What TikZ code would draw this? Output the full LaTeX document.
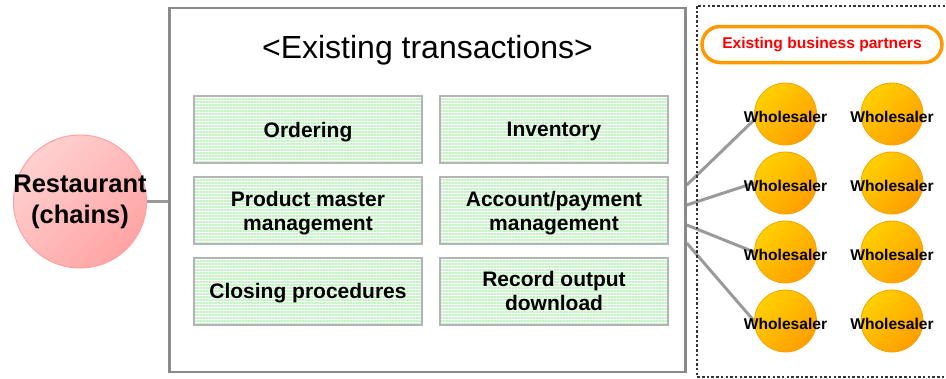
\documentclass[tikz,border=0pt]{standalone}
\usepackage{fontspec}
\setmainfont{Liberation Sans}
\usetikzlibrary{patterns.meta,backgrounds}

\definecolor{framegray}{HTML}{8A8A8A}
\definecolor{taskgray}{HTML}{B4B4B4}
\definecolor{stripegreen}{HTML}{C6F4C6}
\definecolor{linkgray}{HTML}{9A9A9A}
\definecolor{pinklight}{HTML}{FFD0D0}
\definecolor{pinkdark}{HTML}{FFA4A4}
\definecolor{pinkedge}{HTML}{FFA0A0}
\definecolor{goldlight}{HTML}{FFD000}
\definecolor{golddark}{HTML}{FF9E00}
\definecolor{goldedge}{HTML}{F5A300}
\definecolor{partnerorange}{HTML}{FF9900}

\begin{document}
\begin{tikzpicture}
  [
    x                     = 1pt,
    y                     = -1pt,
    mainbox/.style        = {draw=framegray, line width=2.5pt,
                             minimum width=516pt, minimum height=364pt},
    taskbox/.style        = {draw=taskgray, line width=2pt,
                             pattern={Lines[angle=0, distance=3pt, line width=1.5pt]},
                             pattern color=stripegreen,
                             minimum width=228pt, minimum height=67pt,
                             align=center, inner sep=0pt, text depth=0pt,
                             font=\fontsize{21}{24}\selectfont\bfseries},
    guest/.style          = {circle, draw=pinkedge, line width=1pt,
                             top color=pinklight, bottom color=pinkdark,
                             shading angle=45, minimum size=133pt,
                             inner sep=0pt},
    guest text/.style     = {align=center,
                             font=\fontsize{25.5}{31}\selectfont\bfseries},
    seller/.style         = {circle, draw=goldedge, line width=0.8pt,
                             top color=goldlight, bottom color=golddark,
                             shading angle=45, minimum size=62pt,
                             inner sep=0pt},
    seller text/.style    = {yshift=-3pt,
                             font=\fontsize{15.6}{18}\selectfont\bfseries},
    partners/.style       = {draw=partnerorange, line width=3.5pt,
                             rounded corners=18pt, text=red,
                             minimum width=240pt, minimum height=36pt,
                             font=\fontsize{15.6}{18}\selectfont\bfseries},
    link/.style           = {draw=linkgray, line width=3pt},
    group/.style          = {draw=black!80, line width=2pt,
                             dash pattern=on 2.5pt off 2.2pt}
  ]
  \useasboundingbox (0,0) rectangle (946,378);

  % left: the restaurant
  \node[guest, label={[guest text]center:Restaurant\\(chains)}]
    (restaurant) at (80,201.5) {};

  % middle: existing transactions
  \node[mainbox] (existing) at (427.5,190) {};
  \node[anchor=base, font=\fontsize{32}{36}\selectfont]
    (title) at (427.5,58) {<Existing transactions>};

  \node[taskbox] (ordering)  at (308,129.5) {Ordering};
  \node[taskbox] (inventory) at (554,129.5) {Inventory};
  \node[taskbox] (master)    at (308,210.5) {Product master\\management};
  \node[taskbox] (payment)   at (554,210.5) {Account/payment\\management};
  \node[taskbox] (closing)   at (308,291)   {Closing procedures};
  \node[taskbox] (record)    at (554,291)   {Record output\\download};

  % right: existing business partners
  \draw[group] (697,6) rectangle (960,377);
  \node[partners] (partnerlabel) at (822,44.5) {Existing business partners};

  \node[seller, label={[seller text]center:Wholesaler}] (seller1) at (785.5,114) {};
  \node[seller, label={[seller text]center:Wholesaler}] (seller2) at (785.5,183) {};
  \node[seller, label={[seller text]center:Wholesaler}] (seller3) at (785.5,252) {};
  \node[seller, label={[seller text]center:Wholesaler}] (seller4) at (785.5,321) {};
  \node[seller, label={[seller text]center:Wholesaler}] (seller5) at (892,114)   {};
  \node[seller, label={[seller text]center:Wholesaler}] (seller6) at (892,183)   {};
  \node[seller, label={[seller text]center:Wholesaler}] (seller7) at (892,252)   {};
  \node[seller, label={[seller text]center:Wholesaler}] (seller8) at (892,321)   {};

  % connectors
  \begin{pgfonlayer}{background}
    \draw[link] (restaurant.east) -- (restaurant.east -| existing.west);
    \draw[link] ([yshift=5pt]existing.east)   -- (seller1.190);
    \draw[link] ([yshift=-15pt]existing.east) -- (seller2.west);
    \draw[link] ([yshift=-35pt]existing.east) -- (seller3.west);
    \draw[link] ([yshift=-53pt]existing.east) -- (seller4.west);
  \end{pgfonlayer}
\end{tikzpicture}
\end{document}
